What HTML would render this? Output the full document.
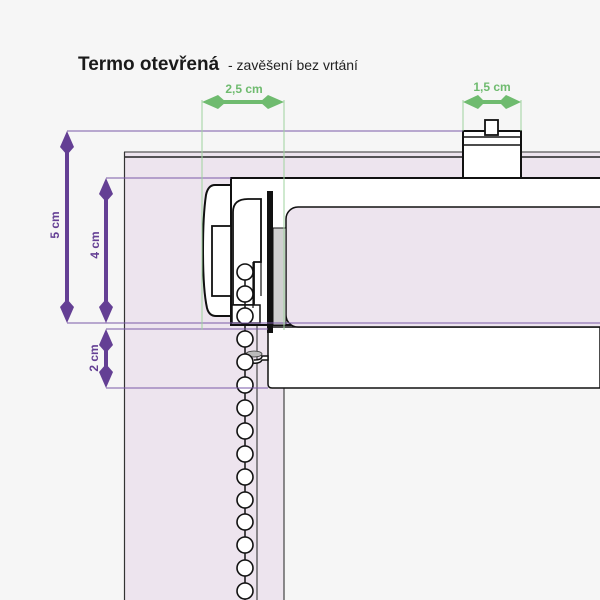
<!DOCTYPE html>
<html><head><meta charset="utf-8"><style>
html,body{margin:0;padding:0;background:#f6f6f6}
svg{display:block}
</style></head><body>
<svg width="600" height="600" viewBox="0 0 600 600" xmlns="http://www.w3.org/2000/svg">
<rect width="600" height="600" fill="#f6f6f6"/>
<!-- pink background regions -->
<rect x="124" y="152" width="476" height="26" fill="#ede4ee"/>
<rect x="124" y="152" width="160" height="448" fill="#ede4ee"/>
<line x1="124" y1="152" x2="600" y2="152" stroke="#333" stroke-width="1"/>
<line x1="124" y1="157" x2="600" y2="157" stroke="#222" stroke-width="1.5"/>
<line x1="124.5" y1="152" x2="124.5" y2="600" stroke="#333" stroke-width="1.2"/>
<line x1="257" y1="325" x2="257" y2="600" stroke="#444" stroke-width="1.2"/>
<line x1="284" y1="325" x2="284" y2="600" stroke="#444" stroke-width="1.2"/>
<!-- lower box -->
<path d="M268 327 H600 V388 H272 Q268 388 268 384 Z" fill="#fff" stroke="#111" stroke-width="1.5"/>
<!-- headrail -->
<rect x="231" y="178" width="380" height="147" fill="#fff" stroke="#111" stroke-width="2"/>
<rect x="286" y="207" width="330" height="120" rx="12" fill="#ede4ee" stroke="#111" stroke-width="1.5"/>
<rect x="273" y="228" width="13" height="97" fill="#d0d0d0" stroke="#111" stroke-width="1"/>
<!-- end cap -->
<path d="M231 185 H215 Q208 185 206 195 Q203 215 203 250 Q203 290 207 308 Q209 316 216 316 H231 Z" fill="#fff" stroke="#111" stroke-width="2"/>
<rect x="212" y="226" width="19" height="70" fill="#fff" stroke="#111" stroke-width="1.8"/>
<path d="M233 305 V212 Q233 199 248 199 H261 V262 H254 V305 Z" fill="#fff" stroke="#111" stroke-width="1.8"/>
<rect x="232" y="305" width="28" height="18" fill="#fff" stroke="#111" stroke-width="1.5"/>
<line x1="253" y1="262" x2="253" y2="308" stroke="#111" stroke-width="1.2"/>
<line x1="261" y1="240" x2="261" y2="296" stroke="#111" stroke-width="1.2"/>
<rect x="267" y="191" width="6" height="142" fill="#111"/>
<!-- clip -->
<ellipse cx="254" cy="354" rx="8" ry="3" fill="#bbb" stroke="#333" stroke-width="0.8"/>
<path d="M254 360 Q262 360 262 356 H268 V360 H262 Q260 364 252 363" fill="#fff" stroke="#111" stroke-width="1.5"/>
<!-- chain -->
<line x1="245" y1="270" x2="245" y2="600" stroke="#111" stroke-width="1.5"/>
<g fill="#fff" stroke="#111" stroke-width="1.6">
<circle cx="245" cy="272" r="8"/><circle cx="245" cy="294" r="8"/><circle cx="245" cy="316" r="8"/>
<circle cx="245" cy="339" r="8"/><circle cx="245" cy="362" r="8"/><circle cx="245" cy="385" r="8"/>
<circle cx="245" cy="408" r="8"/><circle cx="245" cy="431" r="8"/><circle cx="245" cy="454" r="8"/>
<circle cx="245" cy="477" r="8"/><circle cx="245" cy="500" r="8"/><circle cx="245" cy="522" r="8"/>
<circle cx="245" cy="545" r="8"/><circle cx="245" cy="568" r="8"/><circle cx="245" cy="591" r="8"/>
</g>
<!-- top clip -->
<rect x="463" y="131" width="58" height="47" fill="#fff" stroke="#111" stroke-width="2"/>
<line x1="463" y1="137" x2="521" y2="137" stroke="#111" stroke-width="1.5"/>
<line x1="463" y1="145" x2="521" y2="145" stroke="#111" stroke-width="1.5"/>
<rect x="485" y="120" width="13" height="15" fill="#fff" stroke="#111" stroke-width="1.8"/>
<!-- purple dimension lines -->
<g stroke="#7a5aa8" stroke-width="1" fill="none">
<line x1="67" y1="131" x2="463" y2="131"/>
<line x1="67" y1="323" x2="600" y2="323"/>
<line x1="106" y1="178" x2="231" y2="178"/>
<line x1="106" y1="329" x2="268" y2="329"/>
<line x1="106" y1="388" x2="268" y2="388"/>
</g>
<g fill="#643f94">
<rect x="65" y="140" width="4" height="175"/>
<path d="M67 131 L74 147 L67 155 L60 147 Z"/>
<path d="M67 323 L74 307 L67 299 L60 307 Z"/>
<rect x="104" y="187" width="4" height="128"/>
<path d="M106 178 L113 194 L106 202 L99 194 Z"/>
<path d="M106 323 L113 307 L106 299 L99 307 Z"/>
<rect x="104" y="338" width="4" height="42"/>
<path d="M106 329 L113 345 L106 353 L99 345 Z"/>
<path d="M106 388 L113 372 L106 364 L99 372 Z"/>
</g>
<g fill="#643f94" font-family="Liberation Sans, sans-serif" font-weight="bold" font-size="12" text-anchor="middle">
<text transform="translate(59,225) rotate(-90)">5 cm</text>
<text transform="translate(99,245) rotate(-90)">4 cm</text>
<text transform="translate(98,358) rotate(-90)">2 cm</text>
</g>
<!-- green dimension -->
<g stroke="#9fd39f" stroke-width="1">
<line x1="202" y1="100" x2="202" y2="330"/>
<line x1="284" y1="100" x2="284" y2="330"/>
<line x1="463" y1="100" x2="463" y2="131"/>
<line x1="521" y1="100" x2="521" y2="131"/>
</g>
<g fill="#6fbb6f">
<rect x="210" y="100" width="66" height="4"/>
<path d="M202 102 L218 95 L226 102 L218 109 Z"/>
<path d="M284 102 L268 95 L260 102 L268 109 Z"/>
<rect x="470" y="100" width="44" height="4"/>
<path d="M463 102 L478 95 L485 102 L478 109 Z"/>
<path d="M521 102 L506 95 L499 102 L506 109 Z"/>
</g>
<g fill="#6fbb6f" font-family="Liberation Sans, sans-serif" font-weight="bold" font-size="12" text-anchor="middle">
<text x="244" y="93">2,5 cm</text>
<text x="492" y="91">1,5 cm</text>
</g>
<!-- title -->
<text x="78" y="70" font-family="Liberation Sans, sans-serif" font-weight="bold" font-size="19" fill="#1a1a1a">Termo otevřená</text>
<text x="228" y="70" font-family="Liberation Sans, sans-serif" font-size="14" fill="#222">- zavěšení bez vrtání</text>
</svg>
</body></html>
